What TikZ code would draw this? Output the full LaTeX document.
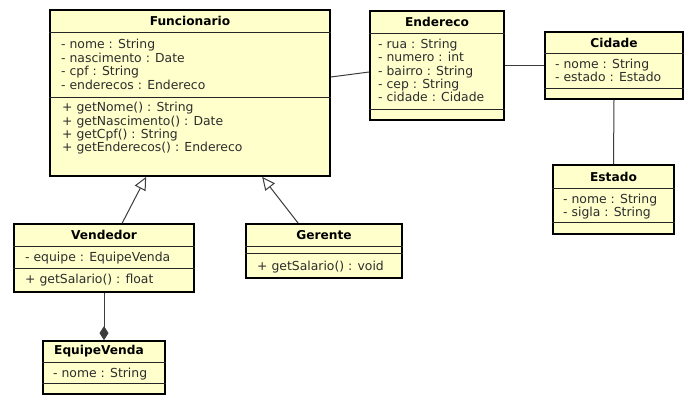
\documentclass[tikz,border=0pt]{standalone}
\usepackage{fontspec}
\setmainfont{DejaVu Sans}
\usetikzlibrary{arrows.meta}
\definecolor{clsfill}{RGB}{255,255,204}
\definecolor{attrcol}{RGB}{45,45,45}
\definecolor{linecol}{RGB}{60,60,60}
\newcommand{\fl}{\rule{0pt}{10pt}}
\begin{document}
\begin{tikzpicture}[x=1pt,y=-1pt,
  cls/.style={draw=black, line width=1.7pt, fill=clsfill, inner sep=0pt, rectangle},
  sepline/.style={draw=black!85, line width=0.9pt},
  ttl/.style={font=\fontsize{12.2}{13.7}\selectfont\bfseries, text=black, inner sep=0pt},
  txt/.style={anchor=north west, inner sep=0pt, align=left, font=\fontsize{12.4}{13.3}\selectfont, text=attrcol},
  conn/.style={draw=linecol, line width=1pt},
  inh/.style={conn, -{Triangle[open, length=13pt, width=12pt, line width=1pt]}},
  comp/.style={conn, -{Diamond[length=14pt, width=9pt]}}
]
\useasboundingbox (0,0) rectangle (699,411);
\fill[white] (0,0) rectangle (699,411);

% Funcionario
\node[cls, minimum width=280pt, minimum height=166pt] (fun) at (190,93) {};
\draw[sepline] (fun.west |- 0,32) -- (fun.east |- 0,32);
\draw[sepline] (fun.west |- 0,97) -- (fun.east |- 0,97);
\node[ttl] (funT) at (190,21) {Funcionario};
\node[txt, font=\fontsize{12.4}{13.6}\selectfont] (funA) at (61,38.5) {\fl- nome : String\\- nascimento : Date\\- cpf : String\\- enderecos : Endereco};
\node[txt] (funM) at (62,101.7) {\fl+ getNome() : String\\+ getNascimento() : Date\\+ getCpf() : String\\+ getEnderecos() : Endereco};

% Endereco
\node[cls, minimum width=134pt, minimum height=109pt] (end) at (437,65.5) {};
\draw[sepline] (end.west |- 0,33) -- (end.east |- 0,33);
\draw[sepline] (end.west |- 0,109) -- (end.east |- 0,109);
\node[ttl] (endT) at (437,22) {Endereco};
\node[txt] (endA) at (378,38.3) {\fl- rua : String\\- numero : int\\- bairro : String\\- cep : String\\- cidade : Cidade};

% Cidade
\node[cls, minimum width=138pt, minimum height=67pt] (cid) at (614,65.5) {};
\draw[sepline] (cid.west |- 0,53) -- (cid.east |- 0,53);
\draw[sepline] (cid.west |- 0,88) -- (cid.east |- 0,88);
\node[ttl] (cidT) at (614,42.5) {Cidade};
\node[txt] (cidA) at (555,58) {\fl- nome : String\\- estado : Estado};

% Estado
\node[cls, minimum width=121pt, minimum height=69pt] (est) at (613.5,199.5) {};
\draw[sepline] (est.west |- 0,188) -- (est.east |- 0,188);
\draw[sepline] (est.west |- 0,222) -- (est.east |- 0,222);
\node[ttl] (estT) at (613.5,176.5) {Estado};
\node[txt] (estA) at (563,193) {\fl- nome : String\\- sigla : String};

% Vendedor
\node[cls, minimum width=180pt, minimum height=68pt] (ven) at (104,258) {};
\draw[sepline] (ven.west |- 0,246) -- (ven.east |- 0,246);
\draw[sepline] (ven.west |- 0,268) -- (ven.east |- 0,268);
\node[ttl] (venT) at (104,235) {Vendedor};
\node[txt] (venA) at (25,251.5) {\fl- equipe : EquipeVenda};
\node[txt] (venM) at (25,273) {\fl+ getSalario() : float};

% Gerente
\node[cls, minimum width=156pt, minimum height=54pt] (ger) at (324,251) {};
\draw[sepline] (ger.west |- 0,246) -- (ger.east |- 0,246);
\draw[sepline] (ger.west |- 0,253) -- (ger.east |- 0,253);
\node[ttl] (gerT) at (324,235) {Gerente};
\node[txt] (gerM) at (257,260) {\fl+ getSalario() : void};

% EquipeVenda
\node[cls, minimum width=122pt, minimum height=53pt] (eqv) at (104,367.5) {};
\draw[sepline] (eqv.west |- 0,362) -- (eqv.east |- 0,362);
\draw[sepline] (eqv.west |- 0,383) -- (eqv.east |- 0,383);
\node[ttl] (eqvT) at (99,351.5) {EquipeVenda};
\node[txt] (eqvA) at (53,367) {\fl- nome : String};

% connectors
\draw[conn] ([yshift=16pt]fun.east) -- ([yshift=-6.5pt]end.west);
\draw[conn] (end.east) -- (cid.west);
\draw[conn] (cid.south) -- (est.north);
\draw[inh] ([xshift=109pt]ven.north west) -- ([xshift=97pt]fun.south west);
\draw[inh] ([xshift=53pt]ger.north west) -- ([xshift=213pt]fun.south west);
\draw[comp] (ven.south) -- (eqv.north);
\end{tikzpicture}
\end{document}
